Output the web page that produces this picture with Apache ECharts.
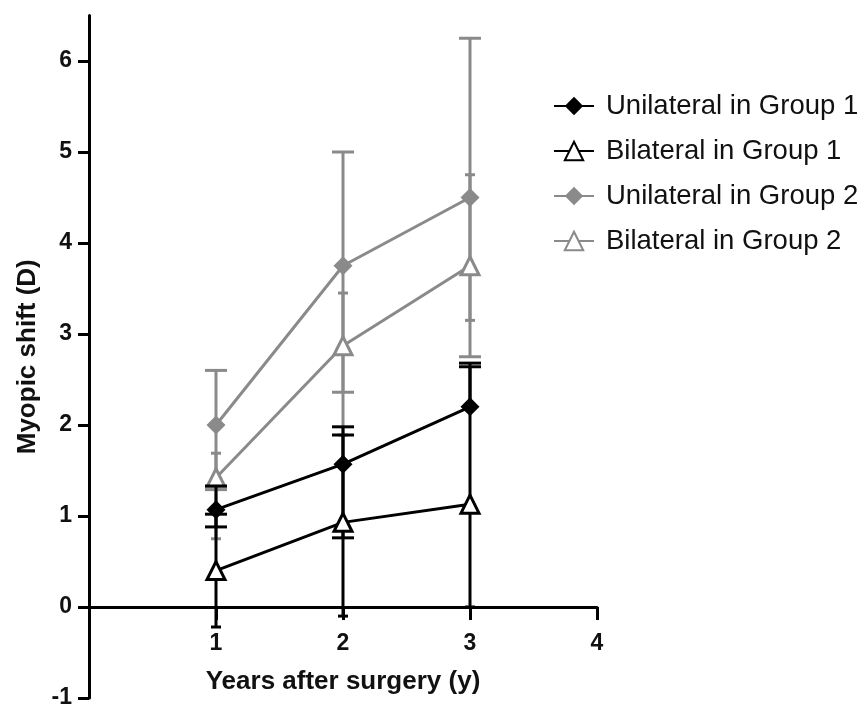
<!DOCTYPE html>
<html>
<head>
<meta charset="utf-8">
<script src="https://cdn.jsdelivr.net/npm/echarts@6/dist/echarts.min.js"></script>
<style>html,body{margin:0;padding:0;background:#fff;}#c{width:863px;height:706px;}</style>
</head>
<body>
<div id="c"></div>
<script>
// ---- data ----
var years = [1, 2, 3];
var yTicks = [-1, 0, 1, 2, 3, 4, 5, 6];
var xTicks = [1, 2, 3, 4];
var seriesNames = ['Unilateral in Group 1', 'Bilateral in Group 1', 'Unilateral in Group 2', 'Bilateral in Group 2'];

var uniG1Mean = [1.07, 1.57, 2.20];
var uniG1Lo   = [0.88, 0.76, null];
var uniG1Hi   = [1.33, 1.98, 2.68];

var biG1Mean  = [0.40, 0.93, 1.13];
var biG1Lo    = [-0.22, -0.10, 0.00];
var biG1Hi    = [1.02, 1.89, 2.64];

var uniG2Mean = [2.00, 3.75, 4.50];
var uniG2Lo   = [1.29, 2.36, 2.75];
var uniG2Hi   = [2.60, 5.00, 6.25];

var biG2Mean  = [1.42, 2.87, 3.75];
var biG2Lo    = [0.75, 1.89, 3.15];
var biG2Hi    = [1.69, 3.45, 4.75];

// ---- build ----
var BLACK = '#000000', GRAY = '#8a8a8a';
function pts(mean) { return years.map(function (x, i) { return [x, mean[i]]; }); }
function errRows(mean, lo, hi) {
  return years.map(function (x, i) {
    return [x, lo[i] == null ? mean[i] : lo[i], hi[i] == null ? mean[i] : hi[i], lo[i] == null ? 0 : 1, hi[i] == null ? 0 : 1];
  });
}
function errSeries(rows, color, capLo, capHi, z) {
  return {
    type: 'custom', z: z, silent: true, legendHoverLink: false,
    encode: { x: 0, y: [1, 2] },
    data: rows,
    renderItem: function (params, api) {
      var x = api.value(0);
      var pLo = api.coord([x, api.value(1)]);
      var pHi = api.coord([x, api.value(2)]);
      var st = { stroke: color, lineWidth: 3 };
      var ch = [{ type: 'line', shape: { x1: pLo[0], y1: pLo[1], x2: pHi[0], y2: pHi[1] }, style: st }];
      if (api.value(3)) ch.push({ type: 'line', shape: { x1: pLo[0] - capLo, y1: pLo[1], x2: pLo[0] + capLo, y2: pLo[1] }, style: st });
      if (api.value(4)) ch.push({ type: 'line', shape: { x1: pHi[0] - capHi, y1: pHi[1], x2: pHi[0] + capHi, y2: pHi[1] }, style: st });
      return { type: 'group', children: ch };
    }
  };
}
function lineSeries(name, mean, color, symbol, filled, z) {
  return {
    name: name, type: 'line', z: z, data: pts(mean),
    symbol: symbol, symbolSize: symbol === 'diamond' ? 19 : 18,
    showAllSymbol: true,
    lineStyle: { color: color, width: 3 },
    itemStyle: filled ? { color: color, borderColor: color, borderWidth: 0 } : { color: '#ffffff', borderColor: color, borderWidth: 3 },
    emphasis: { disabled: true }
  };
}

var fontFam = '"Liberation Sans", Arial, sans-serif';
var option = {
  animation: false,
  backgroundColor: '#ffffff',
  grid: { left: 89, right: 266, top: 15.5, bottom: 8, containLabel: false, outerBoundsMode: 'none' },
  legend: {
    left: 548, top: 87, orient: 'vertical', itemWidth: 40, itemHeight: 23, itemGap: 17,
    data: seriesNames,
    textStyle: { fontFamily: fontFam, fontSize: 27.5, color: '#111', padding: [0, 0, 0, 7] }
  },
  xAxis: {
    type: 'value', min: 0, max: 4, interval: 1,
    name: 'Years after surgery (y)', nameLocation: 'middle', nameGap: -29,
    nameTextStyle: { fontFamily: fontFam, fontSize: 26, fontWeight: 'bold', color: '#111' },
    axisLine: { onZero: true, lineStyle: { color: '#000', width: 3 } },
    axisTick: { show: true, length: 13, lineStyle: { color: '#000', width: 3 }, customValues: xTicks },
    axisLabel: { fontFamily: fontFam, fontSize: 23, fontWeight: 'bold', color: '#111', margin: -66, customValues: xTicks },
    splitLine: { show: false }
  },
  yAxis: {
    type: 'value', min: -1, max: 6.5, interval: 1,
    name: 'Myopic shift (D)', nameLocation: 'middle', nameGap: 47,
    nameTextStyle: { fontFamily: fontFam, fontSize: 26, fontWeight: 'bold', color: '#111' },
    axisLine: { show: true, lineStyle: { color: '#000', width: 3 } },
    axisTick: { show: true, length: 11, lineStyle: { color: '#000', width: 3 }, customValues: yTicks },
    axisLabel: { fontFamily: fontFam, fontSize: 23, fontWeight: 'bold', color: '#111', margin: 17, customValues: yTicks },
    splitLine: { show: false }
  },
  series: [
    errSeries(errRows(uniG2Mean, uniG2Lo, uniG2Hi), GRAY, 11, 11, 1),
    errSeries(errRows(biG2Mean, biG2Lo, biG2Hi), GRAY, 5, 5, 1),
    lineSeries(seriesNames[2], uniG2Mean, GRAY, 'diamond', true, 2),
    lineSeries(seriesNames[3], biG2Mean, GRAY, 'triangle', false, 2),
    errSeries(errRows(uniG1Mean, uniG1Lo, uniG1Hi), BLACK, 11, 11, 3),
    errSeries(errRows(biG1Mean, biG1Lo, biG1Hi), BLACK, 5, 11, 3),
    lineSeries(seriesNames[0], uniG1Mean, BLACK, 'diamond', true, 4),
    lineSeries(seriesNames[1], biG1Mean, BLACK, 'triangle', false, 4)
  ]
};
var chart = echarts.init(document.getElementById('c'), null, { renderer: 'canvas' });
chart.setOption(option);
</script>
</body>
</html>
